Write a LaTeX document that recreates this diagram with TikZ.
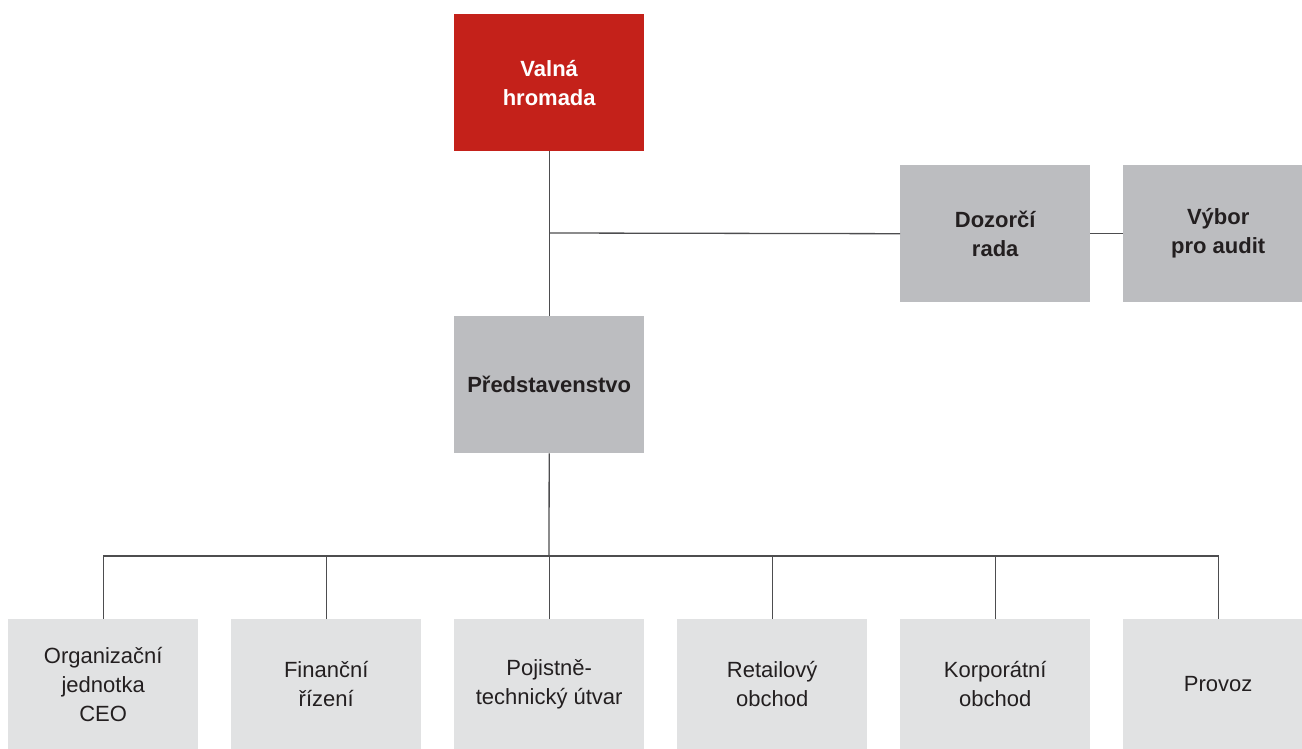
\documentclass[tikz,border=0pt]{standalone}
\usepackage{fontspec}
\setmainfont{Liberation Sans}
\definecolor{redbox}{HTML}{C4211A}
\definecolor{midgray}{HTML}{BCBDC0}
\definecolor{lightgray}{HTML}{E1E2E3}
\definecolor{txt}{HTML}{231F20}
\definecolor{linec}{HTML}{4D4D4F}
\tikzset{
  box/.style={anchor=north west, inner sep=0pt, minimum width=190pt, minimum height=137pt, align=center,
    font=\fontsize{22}{29}\selectfont},
  topbox/.style={box, fill=redbox, text=white, font=\fontsize{22}{29}\selectfont\bfseries},
  midbox/.style={box, fill=midgray, text=txt, font=\fontsize{22}{29}\selectfont\bfseries},
  lowbox/.style={box, fill=lightgray, text=txt, minimum height=130pt},
  conn/.style={draw=linec, line width=1.3pt}
}
\begin{document}
\begin{tikzpicture}[x=1pt,y=-1pt]
\useasboundingbox (0,0) rectangle (1302,749);
\clip (0,0) rectangle (1302,749);
\node[topbox] (vh) at (454,14) {Valná\\hromada};
\node[midbox] (dr) at (900,165) {Dozorčí\\rada};
\node[midbox] (va) at (1123,165) {Výbor\\pro audit};
\node[midbox] (pr) at (454,316) {Představenstvo};
\node[lowbox] (b1) at (8,619) {Organizační\\jednotka\\CEO};
\node[lowbox] (b2) at (231,619) {Finanční\\řízení};
\node[lowbox] (b3) at (454,619) {Pojistně-\\technický útvar};
\node[lowbox] (b4) at (677,619) {Retailový\\obchod};
\node[lowbox] (b5) at (900,619) {Korporátní\\obchod};
\node[lowbox] (b6) at (1123,619) {Provoz};
\coordinate (j1) at (549,233);
\coordinate (bus) at (549,556);
\draw[conn] (vh.south) -- (pr.north);
\draw[conn] (j1) -- (dr.west);
\draw[conn] (dr.east) -- (va.west);
\draw[conn] (pr.south) -- (bus);
\draw[conn] (b1.north) |- (bus) -| (b6.north);
\foreach \b in {b2,b3,b4,b5} {\draw[conn] (\b.north) -- (\b.north |- bus);}
\end{tikzpicture}
\end{document}
